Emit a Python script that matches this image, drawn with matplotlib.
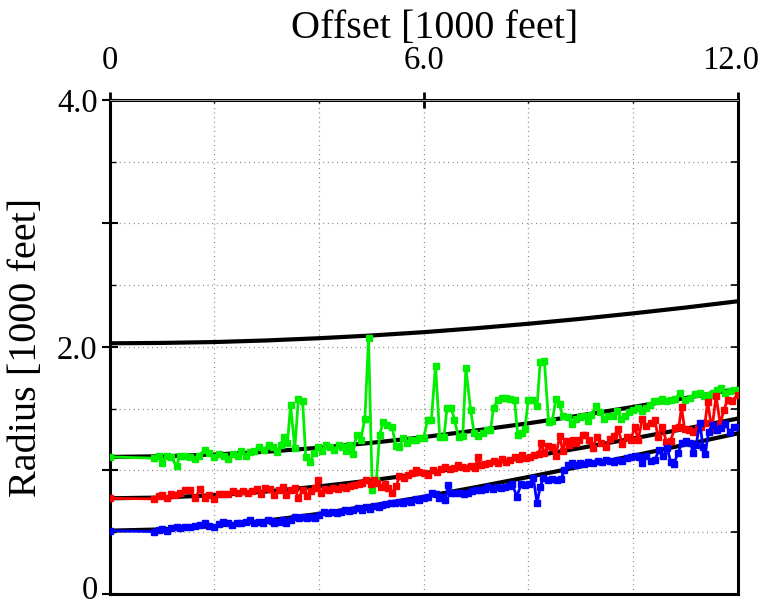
import numpy as np
import matplotlib
matplotlib.use('Agg')
import matplotlib.pyplot as plt
import matplotlib.transforms as mtransforms

plt.rcParams['font.family'] = 'Liberation Serif'

# black reference curves, read at whole-number offsets
curve_x = [0, 1, 2, 3, 4, 5, 6, 7, 8, 9, 10, 11, 12]
upper_curve = [2.03, 2.033, 2.04, 2.053, 2.071, 2.093, 2.12, 2.152, 2.188, 2.228, 2.272, 2.319, 2.37]
green_curve = [1.11, 1.115, 1.129, 1.152, 1.184, 1.224, 1.27, 1.324, 1.382, 1.446, 1.514, 1.586, 1.661]
red_curve = [0.775, 0.781, 0.80, 0.83, 0.871, 0.92, 0.977, 1.041, 1.109, 1.182, 1.259, 1.338, 1.42]
blue_curve = [0.513, 0.523, 0.55, 0.594, 0.649, 0.715, 0.787, 0.865, 0.947, 1.032, 1.119, 1.209, 1.30]

# picked traces (offset, radius), 1000 ft
green_x = [0, 0.85, 0.95, 1.01, 1.09, 1.17, 1.28, 1.35, 1.45, 1.53, 1.63, 1.71, 1.82, 1.91, 1.99,
           2.09, 2.18, 2.26, 2.36, 2.45, 2.51, 2.61, 2.69, 2.77, 2.86, 2.96, 3.04, 3.12, 3.2, 3.27,
           3.33, 3.4, 3.46, 3.54, 3.61, 3.69, 3.75, 3.83, 3.91, 3.98, 4.06, 4.13, 4.21, 4.29, 4.38,
           4.45, 4.51, 4.58, 4.65, 4.72, 4.8, 4.88, 4.95, 5.02, 5.1, 5.16, 5.23, 5.31, 5.4, 5.47,
           5.54, 5.61, 5.69, 5.77, 5.85, 5.92, 6.0, 6.08, 6.15, 6.23, 6.31, 6.39, 6.45, 6.53, 6.59,
           6.67, 6.75, 6.81, 6.9, 6.97, 7.05, 7.13, 7.21, 7.28, 7.34, 7.42, 7.5, 7.58, 7.66, 7.74,
           7.8, 7.88, 7.94, 8.0, 8.08, 8.17, 8.23, 8.31, 8.39, 8.46, 8.53, 8.6, 8.66, 8.76, 8.83,
           8.91, 8.99, 9.07, 9.15, 9.21, 9.29, 9.37, 9.45, 9.53, 9.63, 9.7, 9.77, 9.85, 9.93, 10.01,
           10.09, 10.17, 10.25, 10.32, 10.41, 10.48, 10.56, 10.64, 10.72, 10.81, 10.9, 10.99, 11.09,
           11.18, 11.28, 11.36, 11.45, 11.53, 11.61, 11.69, 11.77, 11.85, 11.93, 12.0]
green_y = [1.11, 1.10, 1.12, 1.06, 1.12, 1.11, 1.04, 1.12, 1.12, 1.11, 1.09, 1.12, 1.17, 1.14, 1.11,
           1.13, 1.12, 1.09, 1.13, 1.12, 1.16, 1.12, 1.15, 1.16, 1.19, 1.17, 1.21, 1.19, 1.15, 1.21,
           1.27, 1.22, 1.53, 1.18, 1.58, 1.56, 1.11, 1.07, 1.14, 1.19, 1.16, 1.21, 1.19, 1.17, 1.21,
           1.19, 1.16, 1.21, 1.13, 1.29, 1.25, 1.42, 2.07, 0.84, 0.92, 1.29, 1.39, 1.37, 1.35, 1.20,
           1.19, 1.26, 1.22, 1.25, 1.25, 1.26, 1.26, 1.41, 1.41, 1.85, 1.27, 1.27, 1.51, 1.51, 1.41,
           1.27, 1.28, 1.83, 1.49, 1.30, 1.28, 1.30, 1.33, 1.33, 1.51, 1.57, 1.59, 1.59, 1.58, 1.57,
           1.29, 1.30, 1.34, 1.57, 1.57, 1.52, 1.88, 1.89, 1.39, 1.40, 1.58, 1.54, 1.44, 1.43, 1.38,
           1.42, 1.43, 1.44, 1.40, 1.45, 1.52, 1.47, 1.42, 1.44, 1.44, 1.48, 1.42, 1.44, 1.47, 1.49,
           1.51, 1.48, 1.51, 1.53, 1.56, 1.56, 1.58, 1.56, 1.57, 1.58, 1.63, 1.57, 1.59,
           1.62, 1.63, 1.60, 1.61, 1.63, 1.65, 1.67, 1.63, 1.64, 1.65, 1.65]

red_x = [0, 0.85, 0.95, 1.01, 1.09, 1.18, 1.26, 1.35, 1.45, 1.54, 1.64, 1.73, 1.82, 1.91, 1.99,
         2.09, 2.17, 2.26, 2.36, 2.45, 2.55, 2.64, 2.72, 2.81, 2.89, 2.97, 3.07, 3.15, 3.23, 3.31,
         3.38, 3.47, 3.54, 3.61, 3.69, 3.77, 3.85, 3.93, 3.98, 4.04, 4.12, 4.2, 4.27, 4.36, 4.44,
         4.51, 4.59, 4.67, 4.76, 4.83, 4.91, 4.99, 5.05, 5.12, 5.18, 5.26, 5.33, 5.4, 5.48, 5.54,
         5.63, 5.71, 5.78, 5.86, 5.92, 6.0, 6.08, 6.18, 6.26, 6.34, 6.42, 6.5, 6.58, 6.66, 6.74,
         6.81, 6.9, 6.98, 7.04, 7.1, 7.18, 7.26, 7.34, 7.42, 7.5, 7.58, 7.66, 7.74, 7.82, 7.88,
         7.96, 8.04, 8.12, 8.2, 8.25, 8.31, 8.38, 8.45, 8.53, 8.6, 8.66, 8.72, 8.78, 8.85, 8.91,
         8.97, 9.04, 9.09, 9.16, 9.23, 9.31, 9.39, 9.48, 9.56, 9.64, 9.72, 9.8, 9.88, 9.96, 10.04,
         10.1, 10.18, 10.26, 10.34, 10.42, 10.48, 10.56, 10.64, 10.72, 10.8, 10.88, 10.93, 10.99,
         11.07, 11.15, 11.24, 11.31, 11.38, 11.43, 11.51, 11.59, 11.67, 11.74, 11.81, 11.89, 12.0]
red_y = [0.775, 0.77, 0.79, 0.80, 0.78, 0.81, 0.80, 0.82, 0.84, 0.84, 0.78, 0.85, 0.78, 0.80, 0.77,
         0.81, 0.81, 0.81, 0.83, 0.82, 0.83, 0.82, 0.83, 0.85, 0.81, 0.855, 0.848, 0.802, 0.842, 0.869,
         0.802, 0.842, 0.856, 0.775, 0.842, 0.794, 0.837, 0.856, 0.923, 0.815, 0.848, 0.842, 0.856, 0.848, 0.869,
         0.856, 0.874, 0.882, 0.89, 0.896, 0.923, 0.89, 0.923, 0.896, 0.869, 0.89, 0.856, 0.82, 0.874, 0.955,
         0.936, 0.963, 0.982, 1.004, 0.99, 0.977, 0.963, 1.004, 0.99, 1.01, 1.031, 1.01, 1.017, 1.044, 1.031,
         1.017, 1.036, 1.017, 1.112, 1.044, 1.053, 1.058, 1.08, 1.058, 1.09, 1.072, 1.085, 1.107, 1.09, 1.126,
         1.099, 1.112, 1.126, 1.134, 1.22, 1.139, 1.198, 1.188, 1.118, 1.279, 1.161, 1.242, 1.206, 1.247, 1.22,
         1.247, 1.287, 1.287, 1.247, 1.18, 1.269, 1.226, 1.188, 1.253, 1.279, 1.333, 1.215, 1.274, 1.247, 1.355,
         1.247, 1.414, 1.36, 1.382, 1.409, 1.274, 1.355, 1.233, 1.242, 1.341, 1.355, 1.512, 1.333,
         1.328, 1.314, 1.341, 1.355, 1.387, 1.557, 1.328, 1.603, 1.376, 1.49, 1.571, 1.565, 1.61]

blue_x = [0, 0.85, 0.95, 1.01, 1.09, 1.18, 1.28, 1.35, 1.45, 1.54, 1.63, 1.72, 1.82, 1.91, 2.0,
          2.09, 2.17, 2.26, 2.35, 2.43, 2.52, 2.6, 2.69, 2.77, 2.85, 2.94, 3.02, 3.1, 3.15, 3.23,
          3.31, 3.38, 3.47, 3.55, 3.63, 3.7, 3.77, 3.85, 3.93, 4.0, 4.1, 4.18, 4.26, 4.34, 4.42,
          4.5, 4.58, 4.65, 4.74, 4.82, 4.9, 4.97, 5.05, 5.14, 5.21, 5.29, 5.37, 5.45, 5.53, 5.61,
          5.69, 5.77, 5.85, 5.92, 6.0, 6.09, 6.17, 6.24, 6.3, 6.36, 6.42, 6.47, 6.53, 6.61, 6.69,
          6.77, 6.85, 6.93, 7.0, 7.09, 7.17, 7.24, 7.32, 7.4, 7.49, 7.56, 7.64, 7.7, 7.78, 7.87,
          7.94, 8.02, 8.1, 8.17, 8.23, 8.29, 8.38, 8.46, 8.55, 8.63, 8.69, 8.76, 8.83, 8.91, 8.99,
          9.07, 9.15, 9.245, 9.33, 9.41, 9.48, 9.56, 9.64, 9.72, 9.8, 9.88, 9.96, 10.04, 10.11, 10.18,
          10.26, 10.34, 10.42, 10.5, 10.58, 10.66, 10.72, 10.79, 10.86, 10.94, 11.02, 11.1, 11.15,
          11.21, 11.28, 11.34, 11.38, 11.45, 11.53, 11.61, 11.69, 11.77, 11.85, 11.93, 12.0]
blue_y = [0.513, 0.505, 0.519, 0.524, 0.51, 0.532, 0.546, 0.532, 0.546, 0.54, 0.551, 0.559, 0.573, 0.551, 0.54,
          0.567, 0.586, 0.573, 0.559, 0.578, 0.573, 0.586, 0.60, 0.573, 0.586, 0.578, 0.60, 0.594, 0.578, 0.586,
          0.60, 0.573, 0.60, 0.626, 0.613, 0.626, 0.613, 0.626, 0.613, 0.64, 0.667, 0.653, 0.667, 0.659, 0.667,
          0.68, 0.675, 0.68, 0.694, 0.68, 0.707, 0.686, 0.712, 0.707, 0.72, 0.729, 0.74, 0.734, 0.748, 0.74,
          0.756, 0.748, 0.767, 0.761, 0.775, 0.788, 0.815, 0.81, 0.775, 0.788, 0.761, 0.882, 0.815, 0.815, 0.82,
          0.81, 0.82, 0.837, 0.842, 0.842, 0.848, 0.864, 0.848, 0.864, 0.856, 0.869, 0.874, 0.89, 0.788, 0.89,
          0.882, 0.89, 0.936, 0.734, 0.869, 0.936, 0.923, 0.928, 0.923, 0.928, 1.004, 1.044, 1.058, 1.044, 1.058,
          1.053, 1.072, 1.063, 1.08, 1.072, 1.085, 1.08, 1.072, 1.085, 1.08, 1.099, 1.112, 1.118, 1.107, 1.063,
          1.118, 1.08, 1.085, 1.166, 1.118, 1.18, 1.072, 1.053, 1.145, 1.22, 1.242, 1.226, 1.145,
          1.206, 1.387, 1.193, 1.134, 1.314, 1.368, 1.328, 1.341, 1.376, 1.314, 1.35, 1.355]

grid_x = [2, 4, 6, 8, 10]
grid_y = [0.5, 1.0, 1.5, 2.0, 2.5, 3.0, 3.5]

fig = plt.figure(figsize=(7.6, 6.06), dpi=100)
ax = fig.add_axes([0.1441, 0.0198, 0.8263, 0.8152])

# dotted grid
for gx in grid_x:
    ax.axvline(gx, color='0.45', lw=0.9, ls=(0, (0.7, 3)), zorder=1)
for gy in grid_y:
    ax.axhline(gy, color='0.45', lw=0.9, ls=(0, (0.7, 3)), zorder=1)

for c in [upper_curve, green_curve, red_curve, blue_curve]:
    ax.plot(curve_x, c, color='black', lw=3, zorder=2)

ax.plot(green_x, green_y, color='#00ee00', lw=2, marker='s', ms=4, zorder=3)
ax.plot(red_x, red_y, color='#ff0000', lw=2, marker='s', ms=4, zorder=3)
ax.plot(blue_x, blue_y, color='#0000ff', lw=2, marker='s', ms=4, zorder=3)

ax.set_xlim(0, 12)
ax.set_ylim(0, 4)

ax.xaxis.tick_top()
ax.set_xticks([0, 6, 12])
ax.set_xticklabels(['0', '6.0', '12.0'])
ax.set_xticks([2, 4, 8, 10], minor=True)
ax.tick_params(axis='x', which='major', direction='inout', length=12, width=2, labelsize=23.5, pad=11)
ax.tick_params(axis='x', which='minor', direction='in', length=2, width=1)

ax.set_yticks([0, 1, 2, 3, 4])
ax.set_yticklabels(['0', '', '2.0', '', '4.0'])
ax.set_yticks([0.5, 1.5, 2.5, 3.5], minor=True)
ax.tick_params(axis='y', which='major', direction='inout', length=11, width=1.5, labelsize=23.5, pad=3)
ax.tick_params(axis='y', which='minor', direction='in', length=4.5, width=1)

# pull the "12.0" label a little left and the bottom "0" a little up
shift = mtransforms.ScaledTranslation(-0.07, 0, fig.dpi_scale_trans)
last = ax.get_xticklabels()[-1]
last.set_transform(last.get_transform() + shift)
lift = mtransforms.ScaledTranslation(0, 0.07, fig.dpi_scale_trans)
first = ax.get_yticklabels()[0]
first.set_transform(first.get_transform() + lift)

ax.xaxis.set_label_position('top')
ax.set_xlabel('Offset [1000 feet]', fontsize=29, labelpad=6)
ax.xaxis.label.set_x(0.518)
ax.set_ylabel('Radius [1000 feet]', fontsize=29, labelpad=9)

for s in ax.spines.values():
    s.set_linewidth(2.2)
# thin grey line inside the top frame
ax.axhline(4.0, color='0.6', lw=0.7, clip_on=False, zorder=3)

# ticks on the right side every 0.5
ax2 = ax.twinx()
ax2.set_ylim(0, 4)
ax2.set_yticks([0.5, 1.0, 1.5, 2.0, 2.5, 3.0, 3.5])
ax2.tick_params(axis='y', direction='in', length=5, width=1.2, labelright=False)
for s in ax2.spines.values():
    s.set_visible(False)

fig.savefig('out.png', dpi=100)
